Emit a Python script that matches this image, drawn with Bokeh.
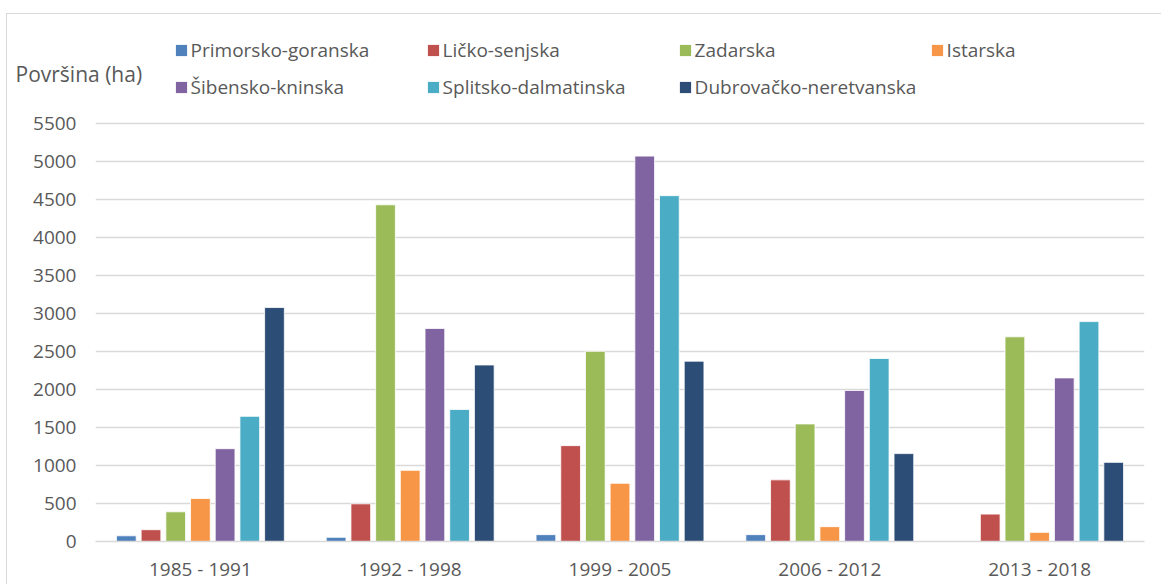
import numpy as np
from bokeh.plotting import figure
from bokeh.layouts import column
from bokeh.models import (FactorRange, Range1d, Legend, LegendItem, Label,
                          FixedTicker, ColumnDataSource)
from bokeh.transform import dodge
from bokeh.embed import file_html
from bokeh.resources import INLINE

# ---------------- data ----------------
periods = ["1985 - 1991", "1992 - 1998", "1999 - 2005", "2006 - 2012", "2013 - 2018"]
counties = ["Primorsko-goranska", "Ličko-senjska", "Zadarska", "Istarska",
            "Šibensko-kninska", "Splitsko-dalmatinska", "Dubrovačko-neretvanska"]
primorsko = [75, 55, 90, 90, 0]
licko = [155, 495, 1260, 810, 360]
zadarska = [390, 4425, 2500, 1545, 2690]
istarska = [565, 935, 765, 195, 120]
sibensko = [1220, 2800, 5065, 1985, 2150]
splitsko = [1645, 1735, 4545, 2405, 2890]
dubrovacko = [3075, 2320, 2370, 1155, 1040]
y_ticks = [0, 500, 1000, 1500, 2000, 2500, 3000, 3500, 4000, 4500, 5000, 5500]
y_title = "Površina (ha)"

series = [primorsko, licko, zadarska, istarska, sibensko, splitsko, dubrovacko]
colors = ["#4f81bd", "#c0504d", "#9bbb59", "#f79646", "#8064a2", "#4bacc6", "#2c4d75"]
keys = ["s%d" % i for i in range(len(series))]

data = {"period": periods}
for k, s in zip(keys, series):
    data[k] = s
src = ColumnDataSource(data)

FONT = "Open Sans"
TXT = "#595959"
GRID = "#d9d9d9"
W = 1154

# ---------------- header (legend + y title) ----------------
TOP_H = 92
ph = figure(width=W, height=TOP_H, output_backend="svg", toolbar_location=None,
            x_range=Range1d(0, W), y_range=Range1d(0, TOP_H),
            x_axis_type=None, y_axis_type=None,
            min_border_left=0, min_border_right=0, min_border_top=0, min_border_bottom=0)
ph.frame_align = False
ph.outline_line_color = None
empty = ColumnDataSource(dict(x=np.array([np.nan]), top=np.array([np.nan])))
dummies = []
for c in colors:
    dummies.append(ph.vbar(x="x", top="top", width=1, source=empty, fill_color=c,
                           line_color=None))
items = [LegendItem(label=n, renderers=[r]) for n, r in zip(counties, dummies)]
legend = Legend(items=items, location=(166.6, TOP_H - 91.5), orientation="horizontal",
                ncols=4, glyph_width=14, glyph_height=14, label_standoff=3,
                label_width=235, label_height=37, spacing=0, padding=0, margin=0,
                border_line_color=None, background_fill_alpha=0,
                label_text_font=FONT, label_text_font_size="19px",
                label_text_color=TXT)
ph.add_layout(legend)
ph.add_layout(Label(x=8, y=TOP_H - 59, x_units="screen", y_units="screen", text=y_title,
                    text_font=FONT, text_font_size="21px", text_color=TXT,
                    text_baseline="middle", text_align="left"))

# ---------------- main chart ----------------
p = figure(width=W, height=584 - 14 - TOP_H, output_backend="svg", toolbar_location=None,
           x_range=FactorRange(*periods, range_padding=0),
           y_range=Range1d(0, 5520),
           min_border_left=88, min_border_right=17, min_border_top=121 - 14 - TOP_H,
           min_border_bottom=43)
p.frame_align = False

step = 0.1177
bw = 0.094
for i, (k, c) in enumerate(zip(keys, colors)):
    p.vbar(x=dodge("period", (i - 3) * step, range=p.x_range), top=k, width=bw,
           source=src, fill_color=c, line_color="white", line_width=0.8)

p.outline_line_color = None
p.xgrid.grid_line_color = None
p.ygrid.ticker = FixedTicker(ticks=y_ticks)
p.ygrid.grid_line_color = GRID
p.ygrid.grid_line_width = 1.3
p.yaxis.ticker = FixedTicker(ticks=y_ticks)
p.yaxis.axis_line_color = None
p.yaxis.major_tick_line_color = None
p.yaxis.minor_tick_line_color = None
p.yaxis.major_tick_out = 0
p.yaxis.major_label_standoff = 19
p.yaxis.major_label_text_font = FONT
p.yaxis.major_label_text_font_size = "19px"
p.yaxis.major_label_text_color = TXT
p.xaxis.axis_line_color = GRID
p.xaxis.axis_line_width = 1.3
p.xaxis.major_tick_line_color = None
p.xaxis.major_tick_out = 0
p.xaxis.major_label_standoff = 14
p.xaxis.major_label_text_font = FONT
p.xaxis.major_label_text_font_size = "19px"
p.xaxis.major_label_text_color = TXT

lay = column(ph, p, spacing=0,
             styles={"margin-left": "6px", "margin-top": "13px",
                     "border-top": "1px solid #d9d9d9",
                     "border-left": "1px solid #d9d9d9"})

open("out.html", "w").write(file_html(lay, INLINE))
